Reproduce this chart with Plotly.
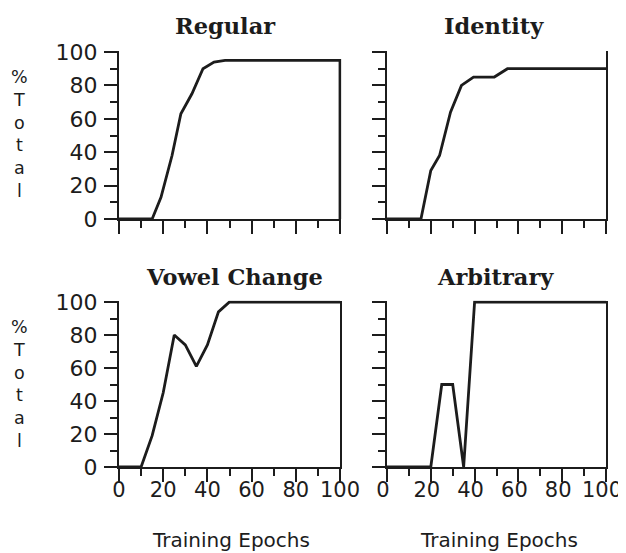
import plotly.graph_objects as go

# ---- data ----
regular_x = [0, 15, 19, 24, 28, 33, 38, 43, 48, 70, 100, 100]
regular_y = [0, 0, 13, 38, 63, 75, 90, 94, 95, 95, 95, 0]

identity_x = [0, 15.5, 20, 24, 29, 34, 39.5, 49, 55, 100]
identity_y = [0, 0, 29, 38, 64, 80, 85, 85, 90, 90]

vowel_x = [0, 10, 15, 20, 25, 30, 35, 40, 45, 50, 100]
vowel_y = [0, 0, 19, 45, 80, 74, 61, 74, 94, 100, 100]

arbitrary_x = [0, 20, 25, 30, 35, 40, 100]
arbitrary_y = [0, 0, 50, 50, 0, 100, 100]

titles = ["Regular", "Identity", "Vowel Change", "Arbitrary"]
x_ticks = [0, 20, 40, 60, 80, 100]
y_ticks = [0, 20, 40, 60, 80, 100]
minor_ticks = [10, 30, 50, 70, 90]
x_title = "Training Epochs"
y_title = "%<br>T<br>o<br>t<br>a<br>l"

# ---- layout geometry (pixels, in reference-image coordinates) ----
OFF = 8                      # page body margin in the browser
W, H = 626 - OFF, 553 - OFF
INK = "#1c1c1c"

def px_x(p):
    return (p - OFF) / W

def px_y(p):
    return 1 - (p - OFF) / H

col_px = [(119, 340), (387, 606)]
row_px = [(52, 219), (302, 467)]   # (y=100, y=0)
YMAX = 100.8

fig = go.Figure()

series = [(regular_x, regular_y), (identity_x, identity_y),
          (vowel_x, vowel_y), (arbitrary_x, arbitrary_y)]

for i, (xs, ys) in enumerate(series):
    n = i + 1
    xa = "x" if n == 1 else f"x{n}"
    ya = "y" if n == 1 else f"y{n}"
    fig.add_trace(go.Scatter(x=xs, y=ys, mode="lines", xaxis=xa, yaxis=ya,
                             line=dict(color=INK, width=2.8), showlegend=False,
                             hoverinfo="skip"))

axis_common = dict(
    showline=True, linecolor=INK, linewidth=2,
    ticks="outside", ticklen=13, tickwidth=2, tickcolor=INK,
    showgrid=False, zeroline=False, automargin=False,
    ticklabeloverflow="allow",
)

layout = dict(width=W, height=H,
              margin=dict(l=0, r=0, t=0, b=0, pad=0, autoexpand=False),
              paper_bgcolor="white", plot_bgcolor="white", showlegend=False)

for i in range(4):
    n = i + 1
    r, c = divmod(i, 2)
    xl, xr = col_px[c]
    y100, y0 = row_px[r]
    scale_y = (y0 - y100) / 100.0
    ytop = y100 - (YMAX - 100) * scale_y
    xmax = 100.6 if n == 1 else 100
    scale_x = (xr - xl) / 100.0
    xr_eff = xl + xmax * scale_x
    xkey = "xaxis" if n == 1 else f"xaxis{n}"
    ykey = "yaxis" if n == 1 else f"yaxis{n}"
    xanchor = "y" if n == 1 else f"y{n}"
    yanchor = "x" if n == 1 else f"x{n}"
    layout[xkey] = dict(
        axis_common, domain=[px_x(xl), px_x(xr_eff)], range=[0, xmax],
        anchor=xanchor, tickvals=x_ticks, showticklabels=(r == 1),
        ticklabelstandoff=-10, ticklabelshift=(-4 if c == 1 else 0),
        tickfont=dict(family="DejaVu Sans", size=21, color=INK),
        minor=dict(ticks="outside", ticklen=7, tickwidth=2, tickcolor=INK,
                   tickvals=minor_ticks, showgrid=False),
    )
    layout[ykey] = dict(
        axis_common, domain=[px_y(y0), px_y(ytop)], range=[0, YMAX],
        anchor=yanchor, tickvals=y_ticks, showticklabels=(c == 0),
        ticklabelstandoff=2,
        tickfont=dict(family="DejaVu Sans", size=22, color=INK),
        mirror=(n != 1),
        minor=dict(ticks="outside", ticklen=7, tickwidth=2, tickcolor=INK,
                   tickvals=minor_ticks, showgrid=False),
    )

fig.update_layout(**layout)

annotations = []
title_pos = [(225, 26), (494, 26), (234, 277), (496, 277)]
for t, (tx, ty) in zip(titles, title_pos):
    annotations.append(dict(text=f"<b>{t}</b>", x=px_x(tx), y=px_y(ty),
                            xref="paper", yref="paper", showarrow=False,
                            xanchor="center", yanchor="middle",
                            font=dict(family="DejaVu Serif", size=22.5, color=INK)))

for cx in (231, 499):
    annotations.append(dict(text=x_title, x=px_x(cx), y=px_y(540),
                            xref="paper", yref="paper", showarrow=False,
                            xanchor="center", yanchor="middle",
                            font=dict(family="DejaVu Sans", size=20, color=INK)))

for cy in (134, 384):
    annotations.append(dict(text=y_title, x=px_x(20), y=px_y(cy),
                            xref="paper", yref="paper", showarrow=False,
                            xanchor="center", yanchor="middle", align="center",
                            font=dict(family="DejaVu Sans", size=17.5, color=INK)))

fig.update_layout(annotations=annotations)

fig.write_html("out.html")
